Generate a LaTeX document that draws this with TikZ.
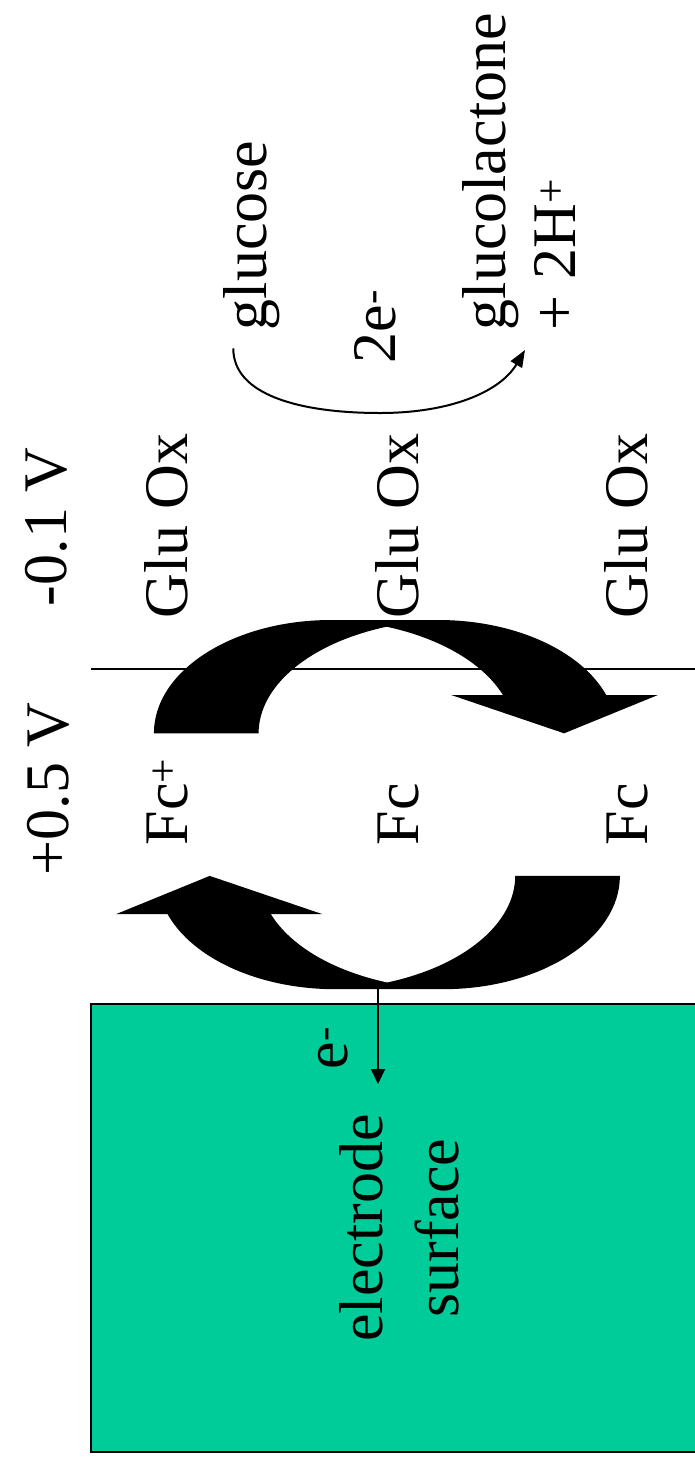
\documentclass[tikz,border=0pt]{standalone}
\usepackage{fontspec}
\setmainfont{Liberation Serif}
\usetikzlibrary{arrows.meta}
\definecolor{elgreen}{HTML}{00CC99}
\tikzset{
  lbl/.style={rotate=90, inner sep=0pt, outer sep=0pt, anchor=base west, font=\fontsize{62}{70}\selectfont},
  thinline/.style={line width=2pt, black},
  bigarrow/.style={fill=black, draw=none}
}
\begin{document}
\begin{tikzpicture}[x=1pt, y=-1pt]
\useasboundingbox (0,0) rectangle (695,1465);
% electrode
\fill[elgreen] (91,1004) rectangle (695,1452);
\draw[thinline] (695,1004) -- (91,1004) -- (91,1452) -- (695,1452);
% separator line
\coordinate (hl) at (91,669);
\coordinate (hr) at (695,669);
\draw[thinline] (hl) -- (hr);
% upper curved arrow (Fc+ -> Fc via Glu Ox)
\path[bigarrow] (153.9,733.3) .. controls (153.9,670.7) and (233.2,620) .. (331.1,620)
  -- (438.3,620) .. controls (513.6,620) and (580.8,650) .. (606.2,695)
  -- (657.9,695) -- (564.1,733.3) -- (451.2,695) -- (502.9,695)
  .. controls (483.4,663.4) and (440.9,638.4) .. (386.6,626.7)
  .. controls (309.7,643.2) and (258.6,685.8) .. (258.6,733.3) -- cycle;
% lower curved arrow (Fc -> Fc+ via electrode)
\path[bigarrow] (619.9,875.9) .. controls (619.9,938.5) and (540.6,989.2) .. (442.7,989.2)
  -- (335.5,989.2) .. controls (260.2,989.2) and (193.0,959.2) .. (167.6,914.2)
  -- (115.9,914.2) -- (209.7,875.9) -- (322.6,914.2) -- (270.9,914.2)
  .. controls (290.4,945.8) and (332.9,970.8) .. (387.2,982.5)
  .. controls (464.1,966.0) and (515.2,923.4) .. (515.2,875.9) -- cycle;
% labels
\node[lbl] (vm) at (66,606) {-0.1 V};
\node[lbl] (vp) at (68,875) {+0.5 V};
\node[lbl] (g1) at (187,618) {Glu Ox};
\node[lbl] (g2) at (418,618) {Glu Ox};
\node[lbl] (g3) at (647,618) {Glu Ox};
\node[lbl] (f1) at (187,845) {Fc\textsuperscript{+}};
\node[lbl] (f2) at (418,845) {Fc};
\node[lbl] (f3) at (647,845) {Fc};
\node[lbl] (glc) at (266,330) {glucose};
\node[lbl] (two) at (395,363) {2e\textsuperscript{-}};
\node[lbl] (glac) at (505,330) {glucolactone};
\node[lbl] (hplus) at (575,330) {+ 2H\textsuperscript{+}};
\node[lbl] (em) at (347,1069) {e\textsuperscript{-}};
\node[lbl, anchor=base] (el1) at (382,1228) {electrode};
\node[lbl, anchor=base] (el2) at (458,1228) {surface};
% glucose arrow
\coordinate (gs) at (233.3,348.3);
\coordinate (ge) at (525,350);
\draw[thinline, -{Triangle[length=17pt,width=13pt]}] (gs) .. controls (233,395) and (300,413) .. (380,413) .. controls (450,413) and (500,392) .. (ge);
% electron arrow
\coordinate (es) at (378,986);
\coordinate (ee) at (378,1084);
\draw[thinline, -{Triangle[length=15pt,width=14pt]}] (es) -- (ee);
\end{tikzpicture}
\end{document}
